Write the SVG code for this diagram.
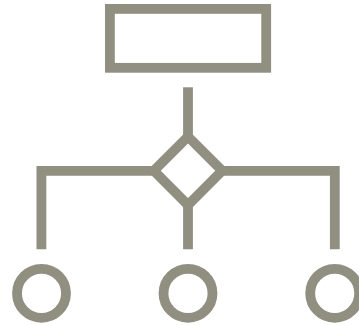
<svg xmlns="http://www.w3.org/2000/svg" width="359" height="325" viewBox="0 0 359 325">
<style>
.s{fill:none;stroke:#908F80;stroke-width:9.8;stroke-linejoin:miter}
</style>
<rect width="359" height="325" fill="#fff"/>
<g id="connectors">
<path class="s" d="M188 87.3V137"/>
<path class="s" d="M154 170.8H41.4V249.3"/>
<path class="s" d="M222 170.8H334.8V249.3"/>
<path class="s" d="M188 205V249.3"/>
</g>
<g id="node-rect"><rect class="s" x="109.9" y="8.9" width="156.3" height="58.9"/></g>
<g id="node-diamond"><path class="s" d="M188 136.6L222.2 170.8L188 205L153.8 170.8Z"/></g>
<g id="node-circle-1"><circle class="s" cx="41.5" cy="293.3" r="24.5"/></g>
<g id="node-circle-2"><circle class="s" cx="188" cy="293.3" r="24.5"/></g>
<g id="node-circle-3"><circle class="s" cx="334.7" cy="293.3" r="24.5"/></g>
</svg>
